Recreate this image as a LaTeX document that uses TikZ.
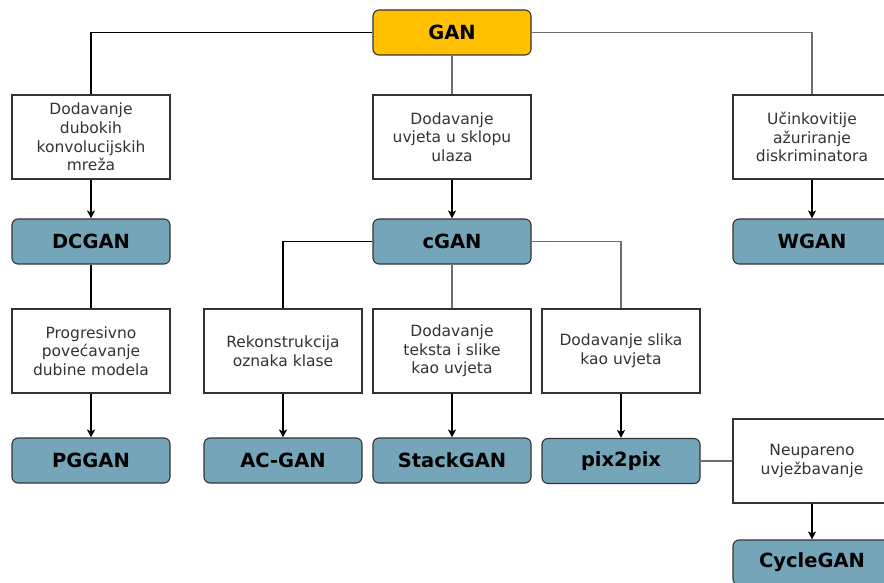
\documentclass[tikz,border=0pt]{standalone}
\usepackage{fontspec}
\setmainfont{DejaVu Sans}
\usetikzlibrary{arrows.meta}
\definecolor{ganyellow}{HTML}{FFC000}
\definecolor{modelblue}{HTML}{74A5B8}
\definecolor{boxline}{HTML}{333333}
\definecolor{greyline}{HTML}{6E6E6E}

\begin{document}
\begin{tikzpicture}[x=1pt, y=-1pt,
  descbox/.style={draw=boxline, line width=1.1pt, fill=white, minimum width=158pt, minimum height=84pt,
    align=center, inner sep=0pt, text=boxline, font=\fontsize{15.5}{18.7}\selectfont},
  modelbox/.style={draw=boxline, line width=1.1pt, fill=modelblue, rounded corners=6pt,
    minimum width=158pt, minimum height=45pt, inner sep=0pt, font=\fontsize{19.5}{23}\selectfont\bfseries},
  link/.style={line width=1.2pt},
  arr/.style={line width=1.2pt, -{Stealth[length=8pt, width=8pt, inset=2pt]}}]
\useasboundingbox (0, 0) rectangle (884, 583);

\node[modelbox, fill=ganyellow] (gan) at (452, 32.5) {GAN};

\node[descbox] (dcdesc) at (91, 137) {Dodavanje\\dubokih\\konvolucijskih\\mreža};
\node[descbox] (cdesc) at (452, 137) {Dodavanje\\uvjeta u sklopu\\ulaza};
\node[descbox] (wdesc) at (812, 137) {Učinkovitije\\ažuriranje\\diskriminatora};

\node[modelbox] (dcgan) at (91, 241.5) {DCGAN};
\node[modelbox] (cgan) at (452, 241.5) {cGAN};
\node[modelbox] (wgan) at (812, 241.5) {WGAN};

\node[descbox] (pgdesc) at (91, 351) {Progresivno\\povećavanje\\dubine modela};
\node[descbox] (acdesc) at (283, 351) {Rekonstrukcija\\oznaka klase};
\node[descbox] (stackdesc) at (452, 351) {Dodavanje\\teksta i slike\\kao uvjeta};
\node[descbox] (pixdesc) at (621, 351) {Dodavanje slika\\kao uvjeta};

\node[modelbox] (pggan) at (91, 460.5) {PGGAN};
\node[modelbox] (acgan) at (283, 460.5) {AC-GAN};
\node[modelbox] (stackgan) at (452, 460.5) {StackGAN};
\node[modelbox] (pix2pix) at (621, 461) {pix2pix};

\node[descbox] (unpdesc) at (812, 461) {Neupareno\\uvježbavanje};
\node[modelbox] (cyclegan) at (812, 562.5) {CycleGAN};

\draw[link] (gan.west) -| (dcdesc.north);
\draw[link, greyline] (gan.south) -- (cdesc.north);
\draw[link, greyline] (gan.east) -| (wdesc.north);

\draw[arr] (dcdesc) -- (dcgan);
\draw[arr] (cdesc) -- (cgan);
\draw[arr] (wdesc) -- (wgan);

\draw[link] (dcgan) -- (pgdesc);
\draw[link] (cgan.west) -| (acdesc.north);
\draw[link, greyline] (cgan) -- (stackdesc);
\draw[link, greyline] (cgan.east) -| (pixdesc.north);

\draw[arr] (pgdesc) -- (pggan);
\draw[arr] (acdesc) -- (acgan);
\draw[arr] (stackdesc) -- (stackgan);
\draw[arr] (pixdesc) -- (pix2pix);

\draw[link, greyline] (pix2pix) -- (unpdesc);
\draw[arr] (unpdesc) -- (cyclegan);

\end{tikzpicture}
\end{document}
